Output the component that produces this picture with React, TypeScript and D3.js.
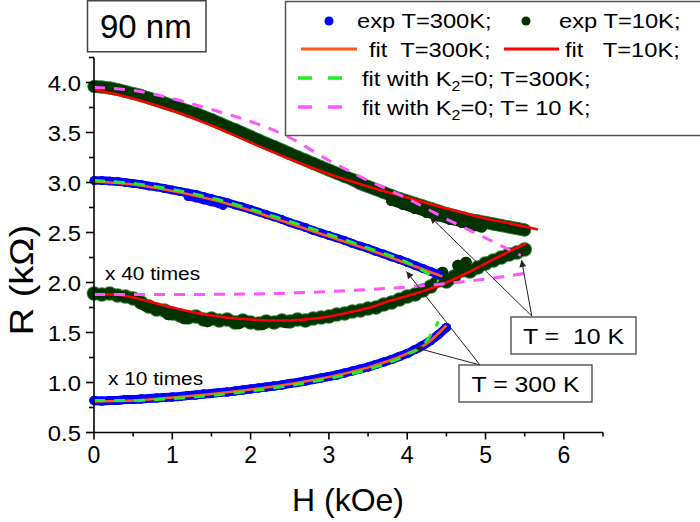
import React from 'react';
import * as d3 from 'd3';

// ---------- data ----------
const xTickValues = [0, 1, 2, 3, 4, 5, 6];
const xTickLabels = ['0', '1', '2', '3', '4', '5', '6'];
const xMinorTicks = [0.5, 1.5, 2.5, 3.5, 4.5, 5.5, 6.5];
const yTickValues = [0.5, 1.0, 1.5, 2.0, 2.5, 3.0, 3.5, 4.0];
const yTickLabels = ['0.5', '1.0', '1.5', '2.0', '2.5', '3.0', '3.5', '4.0'];
const yMinorTicks = [0.75, 1.25, 1.75, 2.25, 2.75, 3.25, 3.75, 4.25];

// experimental, T = 10 K (upper curve), H = 0 .. 5.5 kOe step 0.1
const H_exp10Upper = d3.range(0, 5.501, 0.1);
const R_exp10Upper = [3.96, 3.955, 3.945, 3.93, 3.91, 3.89, 3.87, 3.845, 3.82, 3.795,
  3.77, 3.745, 3.715, 3.69, 3.66, 3.63, 3.595, 3.56, 3.53, 3.495,
  3.46, 3.425, 3.39, 3.36, 3.325, 3.29, 3.257, 3.224, 3.191, 3.158,
  3.125, 3.093, 3.061, 3.03, 2.99, 2.96, 2.93, 2.9, 2.87, 2.84,
  2.815, 2.79, 2.765, 2.74, 2.715, 2.69, 2.67, 2.65, 2.63, 2.615,
  2.6, 2.585, 2.57, 2.555, 2.54, 2.525];
// second sweep segment (slightly lower)
const H_exp10Sweep = [3.8, 3.95, 4.1, 4.25, 4.4, 4.55, 4.7, 4.85, 4.95];
const R_exp10Sweep = [2.82, 2.78, 2.74, 2.70, 2.665, 2.63, 2.6, 2.57, 2.555];

// experimental, T = 10 K (x 40), H = 0 .. 5.5 step 0.1
const H_exp10Lower = d3.range(0, 5.501, 0.1);
const R_exp10Lower = [1.89, 1.88, 1.89, 1.87, 1.86, 1.84, 1.80, 1.76, 1.73, 1.72,
  1.69, 1.67, 1.65, 1.66, 1.63, 1.64, 1.62, 1.63, 1.60, 1.62,
  1.60, 1.59, 1.61, 1.60, 1.62, 1.61, 1.63, 1.62, 1.64, 1.65,
  1.66, 1.68, 1.69, 1.71, 1.72, 1.74, 1.75, 1.78, 1.80, 1.83,
  1.86, 1.88, 1.92, 1.96, 2.02, 2.01, 2.06, 2.12, 2.11, 2.15,
  2.19, 2.22, 2.25, 2.28, 2.30, 2.33];
const H_exp10Extra = [0.65, 0.95, 1.15, 1.45, 1.85, 2.15, 2.45, 4.45, 4.65, 4.75];
const R_exp10Extra = [1.77, 1.68, 1.64, 1.61, 1.59, 1.58, 1.60, 2.1, 2.17, 2.2];

// experimental, T = 300 K (upper curve), H = 0 .. 4.4 step 0.1
const H_exp300Upper = d3.range(0, 4.401, 0.1);
const R_exp300Upper = [3.02, 3.02, 3.015, 3.01, 3.0, 2.99, 2.98, 2.965, 2.955, 2.94,
  2.925, 2.91, 2.895, 2.88, 2.86, 2.84, 2.82, 2.8, 2.775, 2.755,
  2.73, 2.705, 2.68, 2.655, 2.63, 2.6, 2.575, 2.55, 2.52, 2.495,
  2.47, 2.445, 2.42, 2.39, 2.365, 2.34, 2.31, 2.285, 2.255, 2.23,
  2.2, 2.17, 2.14, 2.11, 2.08];
const H_exp300Blob = [1.2, 1.3, 1.4, 1.5, 1.6, 1.65];
const R_exp300Blob = [2.86, 2.845, 2.825, 2.805, 2.785, 2.77];

// experimental, T = 300 K (x 10), H = 0 .. 4.5 step 0.1
const H_exp300Lower = d3.range(0, 4.501, 0.1);
const R_exp300Lower = [0.82, 0.815, 0.82, 0.82, 0.83, 0.83, 0.835, 0.84, 0.845, 0.85,
  0.855, 0.86, 0.87, 0.875, 0.885, 0.89, 0.9, 0.905, 0.915, 0.925,
  0.935, 0.945, 0.955, 0.965, 0.975, 0.99, 1.0, 1.015, 1.03, 1.045,
  1.06, 1.075, 1.095, 1.115, 1.135, 1.155, 1.18, 1.205, 1.23, 1.26,
  1.29, 1.33, 1.37, 1.42, 1.48, 1.55];

// fits
const H_fit10Upper = [0, 0.5, 1.0, 1.5, 2.0, 2.5, 3.0, 3.5, 4.0, 4.5, 5.0, 5.5, 5.67];
const R_fit10Upper = [3.93, 3.84, 3.72, 3.57, 3.40, 3.235, 3.085, 2.96, 2.85, 2.74, 2.64, 2.56, 2.53];
const H_fit10Lower = [0, 0.25, 0.5, 0.75, 1.0, 1.25, 1.5, 1.75, 2.0, 2.25, 2.5, 2.75, 3.0, 3.25, 3.5, 3.75, 4.0, 4.25, 4.5, 4.75, 5.0, 5.25, 5.52];
const R_fit10Lower = [1.88, 1.88, 1.85, 1.8, 1.75, 1.705, 1.67, 1.645, 1.63, 1.62, 1.62, 1.635, 1.66, 1.7, 1.745, 1.81, 1.865, 1.925, 2.0, 2.09, 2.19, 2.29, 2.39];
const H_fit300Upper = [0, 0.5, 1.0, 1.5, 2.0, 2.5, 3.0, 3.5, 4.0, 4.45];
const R_fit300Upper = [3.01, 2.98, 2.915, 2.83, 2.72, 2.59, 2.46, 2.33, 2.19, 2.06];
const H_fit300Lower = [0, 0.5, 1.0, 1.5, 2.0, 2.5, 3.0, 3.5, 4.0, 4.25, 4.5];
const R_fit300Lower = [0.81, 0.82, 0.85, 0.885, 0.93, 0.985, 1.055, 1.15, 1.29, 1.39, 1.57];

// fits with K2 = 0
const H_k0_300Upper = [0, 0.5, 1.0, 1.5, 2.0, 2.5, 3.0, 3.5, 4.0, 4.2, 4.4];
const R_k0_300Upper = [3.02, 2.99, 2.93, 2.845, 2.735, 2.61, 2.48, 2.345, 2.2, 2.12, 2.01];
const H_k0_300Lower = [0, 0.5, 1.0, 1.5, 2.0, 2.5, 3.0, 3.5, 4.0, 4.2, 4.4];
const R_k0_300Lower = [0.82, 0.82, 0.84, 0.87, 0.915, 0.97, 1.04, 1.13, 1.28, 1.37, 1.61];
const H_k0_10Upper = [0, 0.5, 1.0, 1.5, 2.0, 2.5, 3.0, 3.5, 4.0, 4.5, 5.0, 5.45];
const R_k0_10Upper = [3.95, 3.92, 3.84, 3.73, 3.61, 3.45, 3.22, 3.02, 2.84, 2.635, 2.445, 2.27];
const H_k0_10Lower = [0, 1.0, 2.0, 2.5, 3.0, 3.5, 4.0, 4.5, 5.0, 5.5];
const R_k0_10Lower = [1.88, 1.88, 1.885, 1.895, 1.91, 1.93, 1.955, 1.99, 2.035, 2.09];

// annotation arrows: [fromH, fromR, toH, toR]
const arrows10K = [[5.59, 1.665, 4.29, 2.66], [5.59, 1.665, 5.46, 2.225]];
const arrows300K = [[4.93, 1.175, 3.99, 2.11], [4.93, 1.175, 4.1, 1.35]];

// ---------- styles ----------
const C_BLUE = '#0000ff';
const C_DKGREEN = '#003300';
const C_ORANGE = '#ff5a1a';
const C_RED = '#ff0000';
const C_LIME = '#22ee22';
const C_MAGENTA = '#ff55ff';
const FONT = '"Liberation Sans", Arial, Helvetica, sans-serif';
const SX = 1.13;

const x = d3.scaleLinear().domain([0, 6.5]).range([94, 603]);
const y = d3.scaleLinear().domain([0.5, 4.25]).range([432.5, 57.5]);

const zip = (hs: number[], rs: number[]) => hs.map((h, i) => [h, rs[i]] as [number, number]);
const lineGen = d3.line<[number, number]>().x(d => x(d[0])).y(d => y(d[1])).curve(d3.curveMonotoneX);

function SText({ tx, ty, size, sx = SX, anchor = 'start', children }: any) {
  return (
    <text transform={`translate(${tx},${ty}) scale(${sx},1)`} fontSize={size} fontFamily={FONT}
      textAnchor={anchor} fill="#000" style={{ whiteSpace: 'pre' }}>{children}</text>
  );
}

function Band({ hs, rs, r, fill, stroke, pathWidth }: any) {
  const pts = zip(hs, rs);
  return (
    <g>
      {stroke && <path d={lineGen(pts) || ''} fill="none" stroke={stroke} strokeWidth={pathWidth + 2} strokeLinecap="round" strokeLinejoin="round" />}
      {pts.map((d, i) => (
        <circle key={'o' + i} cx={x(d[0])} cy={y(d[1])} r={r + (stroke ? 1 : 0)} fill={stroke || fill} />
      ))}
      <path d={lineGen(pts) || ''} fill="none" stroke={fill} strokeWidth={pathWidth} strokeLinecap="round" strokeLinejoin="round" />
      {pts.map((d, i) => (
        <circle key={i} cx={x(d[0])} cy={y(d[1])} r={r} fill={fill} />
      ))}
    </g>
  );
}

function Curve({ hs, rs, color, width = 2.6, dash }: any) {
  return <path d={lineGen(zip(hs, rs)) || ''} fill="none" stroke={color} strokeWidth={width} strokeDasharray={dash} />;
}

export default function App() {
  return (
    <svg width={700} height={522} style={{ position: 'absolute', left: 0, top: 0, background: '#fff' }}>
      <defs>
        <marker id="ah" viewBox="0 0 10 10" refX="10" refY="5" markerWidth="10" markerHeight="7" orient="auto" markerUnits="userSpaceOnUse">
          <path d="M0,0 L10,5 L0,10 z" fill="#222" />
        </marker>
      </defs>
      <rect x={0} y={0} width={700} height={522} fill="#fff" />

      {/* experimental data */}
      <Band hs={H_exp10Upper} rs={R_exp10Upper} r={5.5} pathWidth={11} fill={C_DKGREEN} stroke="#2f7f2f" />
      <Band hs={H_exp10Sweep} rs={R_exp10Sweep} r={5.5} pathWidth={10} fill={C_DKGREEN} />
      <Band hs={H_exp10Lower} rs={R_exp10Lower} r={6.3} pathWidth={10} fill={C_DKGREEN} stroke="#2f7f2f" />
      <Band hs={H_exp10Extra} rs={R_exp10Extra} r={5.8} pathWidth={0} fill={C_DKGREEN} />
      <Band hs={H_exp300Upper} rs={R_exp300Upper} r={4.3} pathWidth={8.5} fill={C_BLUE} />
      <Band hs={H_exp300Blob} rs={R_exp300Blob} r={4.3} pathWidth={8} fill={C_BLUE} />
      <Band hs={H_exp300Lower} rs={R_exp300Lower} r={4.6} pathWidth={9} fill={C_BLUE} />

      {/* fits */}
      <Curve hs={H_fit300Upper} rs={R_fit300Upper} color={C_ORANGE} />
      <Curve hs={H_fit300Lower} rs={R_fit300Lower} color={C_ORANGE} />
      <Curve hs={H_fit10Upper} rs={R_fit10Upper} color={C_RED} />
      <Curve hs={H_fit10Lower} rs={R_fit10Lower} color={C_RED} />
      <Curve hs={H_k0_300Upper} rs={R_k0_300Upper} color={C_LIME} width={3} dash="11 9" />
      <Curve hs={H_k0_300Lower} rs={R_k0_300Lower} color={C_LIME} width={3} dash="11 9" />
      <Curve hs={H_k0_10Upper} rs={R_k0_10Upper} color={C_MAGENTA} width={3} dash="11 9" />
      <Curve hs={H_k0_10Lower} rs={R_k0_10Lower} color={C_MAGENTA} width={3} dash="11 9" />

      {/* axes */}
      <g stroke="#000" strokeWidth={1.6}>
        <line x1={x(0)} x2={x(6.5)} y1={y(0.5)} y2={y(0.5)} />
        <line x1={x(0)} x2={x(0)} y1={y(0.5)} y2={y(4.25)} />
        {xTickValues.map(v => <line key={'xm' + v} x1={x(v)} x2={x(v)} y1={y(0.5)} y2={y(0.5) + 7} />)}
        {xMinorTicks.map(v => <line key={'xn' + v} x1={x(v)} x2={x(v)} y1={y(0.5)} y2={y(0.5) + 4} />)}
        {yTickValues.map(v => <line key={'ym' + v} x1={x(0)} x2={x(0) - 8} y1={y(v)} y2={y(v)} />)}
        {yMinorTicks.map(v => <line key={'yn' + v} x1={x(0)} x2={x(0) - 5} y1={y(v)} y2={y(v)} />)}
      </g>
      {xTickValues.map((v, i) => (
        <text key={'xl' + v} x={x(v)} y={463} fontSize={23} fontFamily={FONT} textAnchor="middle">{xTickLabels[i]}</text>
      ))}
      {yTickValues.map((v, i) => (
        <SText key={'yl' + v} tx={81} ty={y(v) + 8} size={22.5} sx={1.06} anchor="end">{yTickLabels[i]}</SText>
      ))}
      <text x={348} y={511} fontSize={32} fontFamily={FONT} textAnchor="middle">H (kOe)</text>
      <text transform="translate(33,280) rotate(-90) scale(1.15,1)" fontSize={33} fontFamily={FONT} textAnchor="middle">R (kΩ)</text>

      {/* annotations */}
      <SText tx={105} ty={280} size={18.5}>x 40 times</SText>
      <SText tx={108} ty={385} size={18.5}>x 10 times</SText>

      <g stroke="#222" strokeWidth={1}>
        {[...arrows10K, ...arrows300K].map((a, i) => (
          <line key={i} x1={x(a[0])} y1={y(a[1])} x2={x(a[2])} y2={y(a[3])} markerEnd="url(#ah)" />
        ))}
      </g>
      <rect x={511} y={317} width={125} height={37} fill="#fff" stroke="#444" strokeWidth={1.3} />
      <SText tx={573.5} ty={344} size={22} anchor="middle">{'T =  10 K'}</SText>
      <rect x={459} y={365} width={133} height={37} fill="#fff" stroke="#444" strokeWidth={1.3} />
      <SText tx={525.5} ty={392} size={22} anchor="middle">T = 300 K</SText>

      {/* title box */}
      <rect x={87.5} y={0.75} width={118.5} height={51} fill="#fff" stroke="#444" strokeWidth={1.5} />
      <text x={100} y={38} fontSize={33} fontFamily={FONT}>90 nm</text>

      {/* legend */}
      <rect x={285.5} y={1.5} width={430} height={134} fill="#fff" stroke="#555" strokeWidth={1.5} />
      <circle cx={329} cy={21} r={4.5} fill={C_BLUE} />
      <SText tx={357} ty={28} size={21}>exp T=300K;</SText>
      <circle cx={526} cy={21} r={4.5} fill={C_DKGREEN} />
      <SText tx={559} ty={28} size={21}>exp T=10K;</SText>
      <line x1={301} x2={357} y1={49} y2={49} stroke={C_ORANGE} strokeWidth={3} />
      <SText tx={369} ty={57} size={21}>{'fit  T=300K;'}</SText>
      <line x1={504} x2={559} y1={49} y2={49} stroke={C_RED} strokeWidth={3} />
      <SText tx={565} ty={57} size={21}>{'fit   T=10K;'}</SText>
      <line x1={298} x2={342} y1={78} y2={78} stroke={C_LIME} strokeWidth={3.5} strokeDasharray="14 16" />
      <SText tx={362} ty={86} size={21}>fit with K<tspan fontSize={14} dy={5}>2</tspan><tspan dy={-5}>=0; T=300K;</tspan></SText>
      <line x1={298} x2={342} y1={107} y2={107} stroke={C_MAGENTA} strokeWidth={3.5} strokeDasharray="14 16" />
      <SText tx={362} ty={115} size={21}>fit with K<tspan fontSize={14} dy={5}>2</tspan><tspan dy={-5}>{'=0; T= 10 K;'}</tspan></SText>
    </svg>
  );
}
